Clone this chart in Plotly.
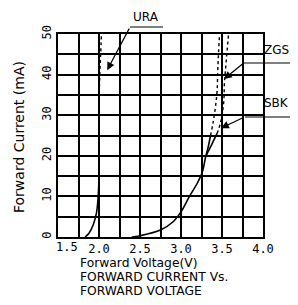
import plotly.graph_objects as go

# ---- data ----
ura_v_solid = [1.83, 1.88, 1.93, 1.97, 1.99, 2.00, 2.00]
ura_i_solid = [0, 1, 3, 6, 10, 15, 34]
ura_v_dot = [2.00, 2.01, 2.02, 2.03]
ura_i_dot = [34, 40, 45, 50]

sbk_v_solid = [2.40, 2.50, 2.75, 2.90, 3.00, 3.10, 3.20, 3.26, 3.30, 3.33, 3.36]
sbk_i_solid = [0, 0.3, 1.7, 3.7, 6.2, 9.9, 13.3, 16, 19.7, 22, 25]
sbk_v_dot = [3.36, 3.39, 3.42, 3.44, 3.45, 3.47]
sbk_i_dot = [25, 28, 32, 36, 42, 50]

zgs_v_solid = [3.30, 3.33, 3.38, 3.44]
zgs_i_solid = [19.7, 21, 23, 25.5]
zgs_v_dot = [3.44, 3.48, 3.52, 3.53, 3.55, 3.58]
zgs_i_dot = [25.5, 28, 33, 38, 43, 50]

x_tick_vals = [1.5, 2.0, 2.5, 3.0, 3.5, 4.0]
x_tick_text = ["", "2.0", "2.5", "3.0", "3.5", "4.0"]
y_tick_vals = [0, 10, 20, 30, 40, 50]
y_tick_text = ["0", "10", "20", "30", "40", "50"]

MONO = "DejaVu Sans Mono"
SANS = "DejaVu Sans"

fig = go.Figure()
line_solid = dict(color="black", width=1.6)
line_dot = dict(color="black", width=1.4, dash="3px,3px")
for xs, ys, ln in [
    (ura_v_solid, ura_i_solid, line_solid),
    (ura_v_dot, ura_i_dot, line_dot),
    (sbk_v_solid, sbk_i_solid, line_solid),
    (sbk_v_dot, sbk_i_dot, line_dot),
    (zgs_v_solid, zgs_i_solid, line_solid),
    (zgs_v_dot, zgs_i_dot, line_dot),
]:
    fig.add_trace(go.Scatter(x=xs, y=ys, mode="lines", line=ln,
                             line_shape="spline", showlegend=False, hoverinfo="skip"))

axis_common = dict(showline=True, mirror=True, linecolor="black", linewidth=2,
                   showgrid=True, gridcolor="black", gridwidth=1.5,
                   zeroline=False, ticks="", automargin=False,
                   tickfont=dict(family=MONO, size=12, color="black"))

fig.update_xaxes(range=[1.5, 4.0], tickvals=x_tick_vals, ticktext=x_tick_text,
                 minor=dict(dtick=0.25, showgrid=True, gridcolor="black", gridwidth=1.5),
                 **axis_common)
fig.update_yaxes(range=[0, 50], tickvals=y_tick_vals, ticktext=y_tick_text, tickangle=-90,
                 minor=dict(dtick=5, showgrid=True, gridcolor="black", gridwidth=1.5),
                 **axis_common)

# screen-pixel -> paper helpers (plot area spans x 58..263, y 34..237 on screen)
def px(x):
    return (x - 58) / 205

def py(y):
    return (237 - y) / 203

ann = []
ann.append(dict(x=1.5, y=0, xref="x", yref="y", text="1.5", showarrow=False,
                xanchor="center", yanchor="middle",
                xshift=9, yshift=-10, font=dict(family=MONO, size=12, color="black")))
ann.append(dict(x=px(19), y=py(137), xref="paper", yref="paper", text="Forward Current (mA)",
                xanchor="center", yanchor="middle",
                textangle=-90, showarrow=False, font=dict(family=SANS, size=14, color="black")))
for txt, yc in [("Forward Voltage(V)", 262.8), ("FORWARD CURRENT Vs.", 277.2), ("FORWARD VOLTAGE", 291.4)]:
    ann.append(dict(x=px(79), y=py(yc), xref="paper", yref="paper", text=txt, xanchor="left",
                    yanchor="middle", showarrow=False, borderpad=0,
                    font=dict(family=SANS, size=12.3, color="black")))
lab_font = dict(family=SANS, size=12, color="black")
for txt, cx, cy in [("URA", 146, 17), ("ZGS", 276, 50), ("SBK", 276, 103)]:
    ann.append(dict(x=px(cx), y=py(cy), xref="paper", yref="paper", text=txt,
                    xanchor="center", yanchor="middle", showarrow=False, font=lab_font))
for hx, hy, tx, ty in [(2.10, 41.1, 2.378, 51.7), (3.524, 38.9, 3.768, 42.9), (3.488, 26.8, 3.78, 29.6)]:
    ann.append(dict(x=hx, y=hy, ax=tx, ay=ty, xref="x", yref="y", axref="x", ayref="y",
                    text="", showarrow=True, arrowhead=2, arrowsize=1.3, arrowwidth=1.2,
                    arrowcolor="black"))

shapes = []
for x0, x1, y0 in [(130, 163, 27), (244, 298, 63), (245, 298, 117)]:
    shapes.append(dict(type="line", xref="paper", yref="paper", x0=px(x0), x1=px(x1),
                       y0=py(y0), y1=py(y0), line=dict(color="black", width=1.2)))

# page body has an 8px default margin, so the figure is offset by 8px and kept
# small enough that the page does not overflow the window
fig.update_layout(width=290, height=289, margin=dict(l=50, r=35, t=26, b=60),
                  plot_bgcolor="white", paper_bgcolor="white",
                  annotations=ann, shapes=shapes, showlegend=False)

fig.write_html("out.html")
